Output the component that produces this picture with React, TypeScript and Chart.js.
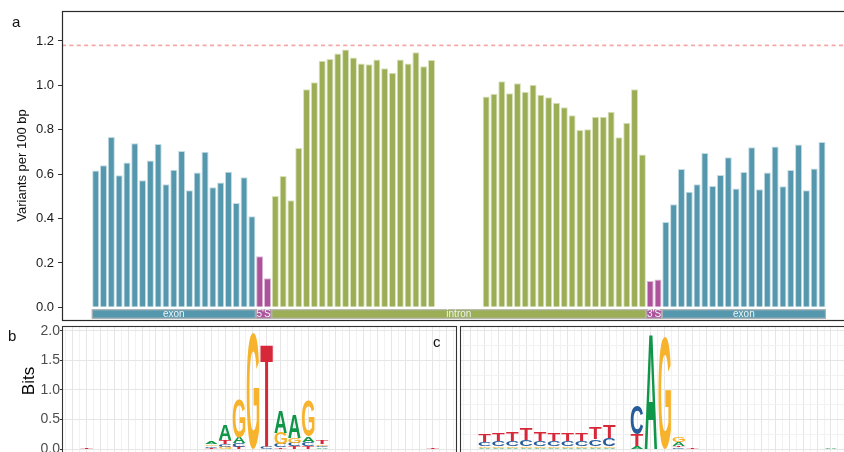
import React, { useEffect, useRef } from 'react';
import { Chart, registerables } from 'chart.js';
Chart.register(...registerables);

const FONT = "'Liberation Sans', Arial, Helvetica, sans-serif";

// ---------- Panel a data ----------
const exonLeft = [0.616, 0.640, 0.767, 0.595, 0.652, 0.739, 0.572, 0.661, 0.736, 0.554, 0.620, 0.704, 0.527, 0.607, 0.701, 0.541, 0.562, 0.611, 0.470, 0.586, 0.410];
const splice5 = [0.230, 0.131];
const intronLeft = [0.502, 0.592, 0.482, 0.718, 0.982, 1.014, 1.111, 1.119, 1.144, 1.162, 1.125, 1.099, 1.095, 1.116, 1.077, 1.057, 1.117, 1.099, 1.149, 1.086, 1.114];
const intronGapSlots = 6;
const intronRight = [0.950, 0.962, 1.018, 0.964, 1.009, 0.971, 1.003, 0.958, 0.947, 0.922, 0.901, 0.865, 0.799, 0.802, 0.859, 0.859, 0.881, 0.766, 0.832, 0.982, 0.688];
const splice3 = [0.119, 0.126];
const exonRight = [0.384, 0.464, 0.623, 0.521, 0.554, 0.695, 0.547, 0.596, 0.676, 0.535, 0.610, 0.721, 0.532, 0.608, 0.725, 0.545, 0.619, 0.734, 0.527, 0.625, 0.745];
const thresholdValue = 1.18;
const yTicksA = [0, 0.2, 0.4, 0.6, 0.8, 1.0, 1.2];
const annotationLabels = ['exon', "5'S", 'intron', "3'S", 'exon'];

// ---------- Panels b / c data (bits per position 0..25) ----------
const bA = [0, 0, 0, 0, 0, 0, 0, 0, 0, 0.04, 0.27, 0.10, 0, 0, 0.36, 0.40, 0.09, 0.03, 0, 0, 0, 0, 0, 0, 0, 0];
const bC = [0, 0, 0, 0, 0, 0, 0, 0, 0, 0.03, 0.05, 0.06, 0, 0.04, 0.06, 0.06, 0.07, 0.03, 0, 0, 0, 0, 0, 0, 0, 0];
const bG = [0, 0, 0, 0, 0, 0, 0, 0, 0, 0.03, 0.04, 0.65, 1.97, 0, 0.19, 0.08, 0.60, 0.03, 0, 0, 0, 0, 0, 0, 0, 0];
const bT = [0.015, 0, 0, 0, 0, 0, 0, 0, 0, 0.02, 0.07, 0.04, 0, 1.73, 0.03, 0.05, 0.05, 0.06, 0, 0, 0, 0, 0, 0, 0, 0.015];

const cA = [0.02, 0.02, 0.02, 0.02, 0.02, 0.02, 0.02, 0.02, 0.02, 0.02, 0, 0.05, 1.96, 0, 0.06, 0, 0, 0, 0, 0, 0, 0, 0, 0, 0, 0.015];
const cC = [0.07, 0.08, 0.09, 0.11, 0.09, 0.08, 0.08, 0.09, 0.12, 0.13, 0, 0.48, 0, 0, 0.03, 0, 0, 0, 0, 0, 0, 0, 0, 0, 0, 0];
const cG = [0.03, 0.03, 0.03, 0.03, 0.03, 0.03, 0.03, 0.03, 0.03, 0.03, 0, 0, 0, 1.90, 0.09, 0, 0, 0, 0, 0, 0, 0, 0, 0, 0, 0];
const cT = [0.12, 0.13, 0.15, 0.19, 0.16, 0.13, 0.12, 0.14, 0.20, 0.22, 0, 0.19, 0, 0, 0.03, 0.025, 0, 0, 0, 0, 0, 0, 0, 0, 0, 0];
const bitTicks = [0, 0.25, 0.5, 0.75, 1.0, 1.25, 1.5, 1.75, 2.0];
const bitTickLabels = ['0.0', '', '0.5', '', '1.0', '', '1.5', '', '2.0'];
const bitsTitle = 'Bits';

// ---------- styles ----------
const regionFill: Record<string, string> = { exon: '#5598ae', splice: '#ad539b', intron: '#9bae55' };
const regionEdge: Record<string, string> = { exon: '#c3dbe3', splice: '#dcb8d4', intron: '#d9e2bd' };
const letterColors: Record<string, string> = { A: '#109648', C: '#255C99', G: '#F7B32B', T: '#D62839' };

type Group = { kind: string; values: (number | null)[] };
const barGroups: Group[] = [
  { kind: 'exon', values: exonLeft },
  { kind: 'splice', values: splice5 },
  { kind: 'intron', values: intronLeft },
  { kind: 'gap', values: new Array(intronGapSlots).fill(null) },
  { kind: 'intron', values: intronRight },
  { kind: 'splice', values: splice3 },
  { kind: 'exon', values: exonRight },
];
const segmentGroupIdx = [[0], [1], [2, 3, 4], [5], [6]];
const segmentKinds = ['exon', 'splice', 'intron', 'splice', 'exon'];

function buildBars() {
  const bars: { x: number; y: number; kind: string }[] = [];
  const groupRanges: [number, number][] = [];
  let pos = 0;
  barGroups.forEach((g) => {
    const start = pos;
    g.values.forEach((v) => {
      if (v !== null) bars.push({ x: pos, y: v, kind: g.kind });
      pos++;
    });
    groupRanges.push([start, pos - 1]);
  });
  const segments = segmentGroupIdx.map((idxs, i) => ({
    label: annotationLabels[i],
    kind: segmentKinds[i],
    start: groupRanges[idxs[0]][0],
    end: groupRanges[idxs[idxs.length - 1]][1],
  }));
  return { bars, segments, total: pos };
}

function makeA(canvas: HTMLCanvasElement) {
  const { bars, segments, total } = buildBars();
  const annTop = -0.009;
  const annBottom = -0.051;
  const plugin = {
    id: 'panelA',
    afterDatasetsDraw(chart: any) {
      const { ctx, chartArea } = chart;
      const x = chart.scales.x;
      const y = chart.scales.y;
      ctx.save();
      ctx.strokeStyle = '#f4a9a6';
      ctx.lineWidth = 1.6;
      ctx.setLineDash([4, 3.4]);
      const py = y.getPixelForValue(thresholdValue);
      ctx.beginPath();
      ctx.moveTo(chartArea.left, py);
      ctx.lineTo(chartArea.right, py);
      ctx.stroke();
      ctx.setLineDash([]);
      const y0 = y.getPixelForValue(annTop);
      const y1 = y.getPixelForValue(annBottom);
      segments.forEach((s) => {
        const x0 = x.getPixelForValue(s.start - 0.5);
        const x1 = x.getPixelForValue(s.end + 0.5);
        ctx.fillStyle = regionFill[s.kind];
        ctx.fillRect(x0, y0, x1 - x0, y1 - y0);
        ctx.strokeStyle = '#b5b5b5';
        ctx.lineWidth = 1;
        ctx.strokeRect(x0 + 0.5, y0 + 0.5, x1 - x0 - 1, y1 - y0 - 1);
        ctx.fillStyle = '#eef4f6';
        ctx.font = `10px ${FONT}`;
        ctx.textAlign = 'center';
        ctx.textBaseline = 'middle';
        ctx.fillText(s.label, (x0 + x1) / 2, (y0 + y1) / 2 + 0.5);
      });
      ctx.restore();
    },
    afterDraw(chart: any) {
      const { ctx, chartArea } = chart;
      ctx.save();
      ctx.strokeStyle = '#2a2a2a';
      ctx.lineWidth = 1.2;
      ctx.strokeRect(chartArea.left + 0.5, chartArea.top + 0.5, chartArea.right - chartArea.left, chartArea.bottom - chartArea.top);
      ctx.restore();
    },
  };
  return new Chart(canvas, {
    type: 'bar',
    data: {
      datasets: [
        {
          data: bars.map((b) => ({ x: b.x, y: b.y })),
          backgroundColor: bars.map((b) => regionFill[b.kind]),
          borderColor: bars.map((b) => regionEdge[b.kind]),
          borderWidth: 1,
          barPercentage: 0.9,
          categoryPercentage: 1,
        } as any,
      ],
    },
    options: {
      animation: false,
      responsive: false,
      maintainAspectRatio: false,
      layout: { padding: { top: 11, bottom: 2, left: 0, right: 0 } },
      plugins: { legend: { display: false }, tooltip: { enabled: false } },
      scales: {
        x: {
          type: 'linear',
          display: false,
          offset: false,
          grid: { offset: false },
          min: -4.315,
          max: 96.33,
          afterBuildTicks: (s: any) => {
            s.ticks = Array.from({ length: total }, (_, i) => ({ value: i }));
          },
        },
        y: {
          min: -0.057,
          max: 1.335,
          afterBuildTicks: (s: any) => {
            s.ticks = yTicksA.map((v) => ({ value: v }));
          },
          afterFit: (s: any) => {
            s.width = 62;
            s.paddingTop = 0;
            s.paddingBottom = 0;
          },
          ticks: {
            callback: (v: any) => Number(v).toFixed(1),
            color: '#1a1a1a',
            font: { size: 13, family: FONT },
            padding: 4,
          },
          grid: { drawOnChartArea: false, drawTicks: true, tickLength: 4, tickColor: '#333', tickWidth: 1 },
          border: { display: false },
          title: {
            display: true,
            text: 'Variants per 100 bp',
            color: '#111',
            font: { size: 13, family: FONT },
            padding: { top: 15, bottom: 0 },
          },
        },
      },
    } as any,
    plugins: [plugin],
  });
}

const glyphCache: Record<string, { l: number; r: number; a: number; d: number }> = {};
function glyph(ctx: CanvasRenderingContext2D, ch: string) {
  if (!glyphCache[ch]) {
    ctx.font = `bold 100px ${FONT}`;
    const m = ctx.measureText(ch);
    glyphCache[ch] = { l: m.actualBoundingBoxLeft, r: m.actualBoundingBoxRight, a: m.actualBoundingBoxAscent, d: m.actualBoundingBoxDescent };
  }
  return glyphCache[ch];
}

function makeLogo(canvas: HTMLCanvasElement, letters: Record<string, number[]>, withAxis: boolean) {
  const n = letters.A.length;
  const plugin = {
    id: 'logo',
    afterDatasetsDraw(chart: any) {
      const { ctx, chartArea } = chart;
      const xs = chart.scales.x;
      const ys = chart.scales.y;
      ctx.save();
      ctx.beginPath();
      ctx.rect(chartArea.left, chartArea.top, chartArea.right - chartArea.left, chartArea.bottom - chartArea.top);
      ctx.clip();
      for (let k = 0; k < n; k++) {
        const stack = Object.keys(letters)
          .map((ch) => ({ ch, h: letters[ch][k] }))
          .filter((e) => e.h > 0)
          .sort((p, q) => p.h - q.h);
        let base = 0;
        const x0 = xs.getPixelForValue(k - 0.45);
        const x1 = xs.getPixelForValue(k + 0.45);
        stack.forEach((e) => {
          const yb = ys.getPixelForValue(base);
          const yt = ys.getPixelForValue(base + e.h);
          base += e.h;
          const g = glyph(ctx, e.ch);
          const w = g.l + g.r;
          const h = g.a + g.d;
          ctx.save();
          ctx.translate(x0, yb);
          ctx.scale((x1 - x0) / w, (yb - yt) / h);
          ctx.fillStyle = letterColors[e.ch];
          ctx.font = `bold 100px ${FONT}`;
          ctx.textAlign = 'left';
          ctx.textBaseline = 'alphabetic';
          ctx.fillText(e.ch, g.l, -g.d);
          ctx.restore();
        });
      }
      ctx.restore();
    },
    afterDraw(chart: any) {
      const { ctx, chartArea } = chart;
      ctx.save();
      ctx.strokeStyle = '#333';
      ctx.lineWidth = 1.1;
      ctx.strokeRect(chartArea.left + 0.5, chartArea.top + 0.5, chartArea.right - chartArea.left - 1, chartArea.bottom - chartArea.top + 10);
      if (withAxis) {
        // y-axis title, centred on the visible part of the panel (canvas coords)
        ctx.translate(29, 58);
        ctx.rotate(-Math.PI / 2);
        ctx.fillStyle = '#000';
        ctx.font = `17px ${FONT}`;
        ctx.textAlign = 'center';
        ctx.textBaseline = 'middle';
        ctx.fillText(bitsTitle, 0, 0);
      }
      ctx.restore();
    },
  };
  const isHalf = (v: number) => Math.abs(v - Math.round(v)) > 1e-6;
  const isMinorBit = (v: number) => Math.abs(v * 2 - Math.round(v * 2)) > 1e-6;
  return new Chart(canvas, {
    type: 'bar',
    data: { datasets: [] },
    options: {
      animation: false,
      responsive: false,
      maintainAspectRatio: false,
      layout: { padding: { top: 3, right: 3, bottom: 1, left: 0 } },
      plugins: { legend: { display: false }, tooltip: { enabled: false } },
      scales: {
        x: {
          type: 'linear',
          offset: false,
          min: -1.783,
          max: 26.737,
          afterBuildTicks: (s: any) => {
            const t = [];
            for (let v = -1.5; v <= 26.5; v += 0.5) t.push({ value: v });
            s.ticks = t;
          },
          afterFit: (s: any) => {
            s.height = 0;
            s.paddingLeft = 0;
            s.paddingRight = 0;
          },
          ticks: { display: false },
          grid: {
            offset: false,
            drawTicks: false,
            color: (c: any) => (c.tick && isHalf(c.tick.value) ? '#f2f2f2' : '#e6e6e6'),
          },
          border: { display: false },
        },
        y: {
          min: -0.1,
          max: 2.08,
          afterBuildTicks: (s: any) => {
            s.ticks = bitTicks.map((v) => ({ value: v }));
          },
          afterFit: (s: any) => {
            s.width = withAxis ? 62 : 2;
            s.paddingTop = 0;
            s.paddingBottom = 0;
          },
          ticks: {
            display: withAxis,
            callback: (_v: any, i: number) => bitTickLabels[i],
            color: '#4d4d4d',
            font: { size: 14, family: FONT },
            padding: 0,
          },
          grid: {
            drawTicks: withAxis,
            tickLength: 2,
            tickColor: (c: any) => (c.tick && isMinorBit(c.tick.value) ? 'rgba(0,0,0,0)' : '#333'),
            color: (c: any) => (c.tick && isMinorBit(c.tick.value) ? '#f2f2f2' : '#e6e6e6'),
          },
          border: { display: false },
          title: { display: false },
        },
      },
    } as any,
    plugins: [plugin],
  });
}

const labelStyle: React.CSSProperties = {
  position: 'absolute',
  fontSize: 15,
  lineHeight: '15px',
  color: '#111',
  fontFamily: FONT,
};

export default function App() {
  const aRef = useRef<HTMLCanvasElement>(null);
  const bRef = useRef<HTMLCanvasElement>(null);
  const cRef = useRef<HTMLCanvasElement>(null);
  useEffect(() => {
    const charts = [
      makeA(aRef.current!),
      makeLogo(bRef.current!, { A: bA, C: bC, G: bG, T: bT }, true),
      makeLogo(cRef.current!, { A: cA, C: cC, G: cG, T: cT }, false),
    ];
    return () => charts.forEach((c) => c.destroy());
  }, []);
  return (
    <div style={{ position: 'absolute', left: 0, top: 0, width: 844, height: 452, overflow: 'hidden', background: '#fff' }}>
      <canvas ref={aRef} width={848} height={322} style={{ position: 'absolute', left: 0, top: 0 }} />
      <canvas ref={bRef} width={460} height={133} style={{ position: 'absolute', left: 0, top: 323 }} />
      <canvas ref={cRef} width={400} height={133} style={{ position: 'absolute', left: 458, top: 323 }} />
      <span style={{ ...labelStyle, left: 12, top: 13.5 }}>a</span>
      <span style={{ ...labelStyle, left: 8, top: 328 }}>b</span>
      <span style={{ ...labelStyle, left: 433, top: 334 }}>c</span>
    </div>
  );
}
